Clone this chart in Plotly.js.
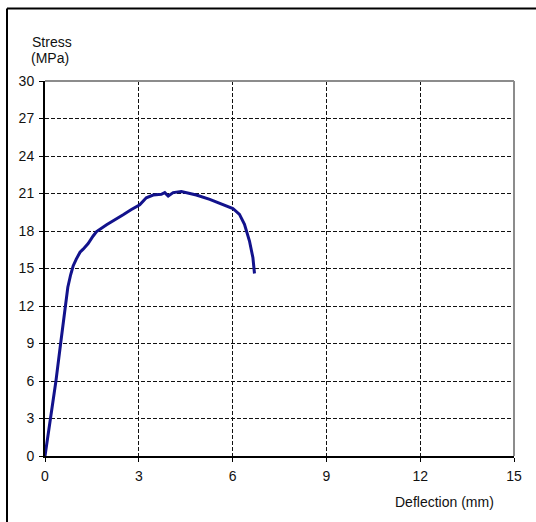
<!DOCTYPE html>
<html>
<head>
<meta charset="utf-8">
<script src="https://cdn.plot.ly/plotly-3.0.1.min.js"></script>
<style>
  html, body { margin: 0; padding: 0; background: #fff; }
  #chart { width: 536px; height: 522px; }
</style>
</head>
<body>
<div id="chart"></div>
<script>
// Deflection (mm)
const deflection = [0, 0.18, 0.35, 0.5, 0.64, 0.73, 0.82, 0.9, 1.0, 1.12, 1.22, 1.38, 1.54, 1.65, 1.97, 2.25, 2.5, 2.75, 2.93, 3.03, 3.24, 3.46, 3.72, 3.83, 3.94, 4.1, 4.36, 4.52, 4.84, 5.27, 5.69, 6.01, 6.22, 6.38, 6.54, 6.65, 6.7];
// Stress (MPa)
const stress = [0, 3, 6, 9, 12, 13.5, 14.5, 15.2, 15.75, 16.3, 16.55, 17.0, 17.6, 17.95, 18.5, 18.9, 19.3, 19.7, 20.0, 20.1, 20.66, 20.88, 20.94, 21.07, 20.8, 21.07, 21.15, 21.07, 20.88, 20.53, 20.13, 19.8, 19.33, 18.53, 17.2, 15.86, 14.6];

const xTicks = [0, 3, 6, 9, 12, 15];
const yTicks = [0, 3, 6, 9, 12, 15, 18, 21, 24, 27, 30];

const W = 536, H = 522;
const M = {l: 45, r: 22, t: 81, b: 66};
const pw = W - M.l - M.r, ph = H - M.t - M.b;
// outer frame lines (top and left) in paper coords
const frameX = (7 - M.l) / pw;
const frameY = 1 + (M.t - 8.5) / ph;
const frameYBottom = -(M.b) / ph;
const frameXRight = 1 + M.r / pw;

const trace = {
  x: deflection, y: stress,
  type: 'scatter', mode: 'lines',
  line: {color: '#12128c', width: 3},
  hoverinfo: 'skip'
};

const FAM = 'Liberation Sans, Arial, sans-serif';
const tickFont = {family: FAM, size: 14, color: '#111'};
const titleFont = {family: FAM, size: 14, color: '#111'};

const py = (pix) => 1 - (pix - M.t) / ph;   // pixel y -> paper y
const px = (pix) => (pix - M.l) / pw;       // pixel x -> paper x

const layout = {
  width: W, height: H,
  margin: M,
  paper_bgcolor: '#fff',
  plot_bgcolor: '#fff',
  showlegend: false,
  font: tickFont,
  xaxis: {
    range: [0, 15],
    tickvals: xTicks,
    ticktext: xTicks.map(String),
    showgrid: true, gridcolor: '#111', gridwidth: 1, griddash: '4px,2px',
    zeroline: false,
    showline: true, linecolor: '#000', linewidth: 2,
    ticks: 'outside', ticklen: 4, tickcolor: '#000', tickwidth: 1,
    ticklabelstandoff: 2,
    tickfont: tickFont,
    fixedrange: true
  },
  yaxis: {
    range: [0, 30],
    tickvals: yTicks,
    ticktext: yTicks.map(String),
    showgrid: true, gridcolor: '#111', gridwidth: 1, griddash: '4px,2px',
    zeroline: false,
    showline: true, linecolor: '#000', linewidth: 2,
    ticks: 'outside', ticklen: 4, tickcolor: '#000', tickwidth: 1,
    ticklabelstandoff: 2,
    tickfont: tickFont,
    fixedrange: true
  },
  shapes: [
    {type: 'line', xref: 'paper', yref: 'paper', x0: 0, x1: 1, y0: 1, y1: 1, line: {color: '#8c8c8c', width: 2}},
    {type: 'line', xref: 'paper', yref: 'paper', x0: 1, x1: 1, y0: 0, y1: 1, line: {color: '#8c8c8c', width: 2}},
    {type: 'line', xref: 'paper', yref: 'paper', x0: frameX, x1: frameXRight, y0: frameY, y1: frameY, line: {color: '#000', width: 2}},
    {type: 'line', xref: 'paper', yref: 'paper', x0: frameX, x1: frameX, y0: frameYBottom, y1: frameY, line: {color: '#000', width: 2}}
  ],
  annotations: [
    {text: 'Stress', xref: 'paper', yref: 'paper',
     x: px(52), y: py(42), xanchor: 'center', yanchor: 'middle',
     showarrow: false, font: titleFont},
    {text: '(MPa)', xref: 'paper', yref: 'paper',
     x: px(50), y: py(58), xanchor: 'center', yanchor: 'middle',
     showarrow: false, font: titleFont},
    {text: 'Deflection (mm)', xref: 'paper', yref: 'paper',
     x: px(444), y: py(502), xanchor: 'center', yanchor: 'middle',
     showarrow: false, font: titleFont}
  ]
};

Plotly.newPlot('chart', [trace], layout, {displayModeBar: false, staticPlot: true});
</script>
</body>
</html>
